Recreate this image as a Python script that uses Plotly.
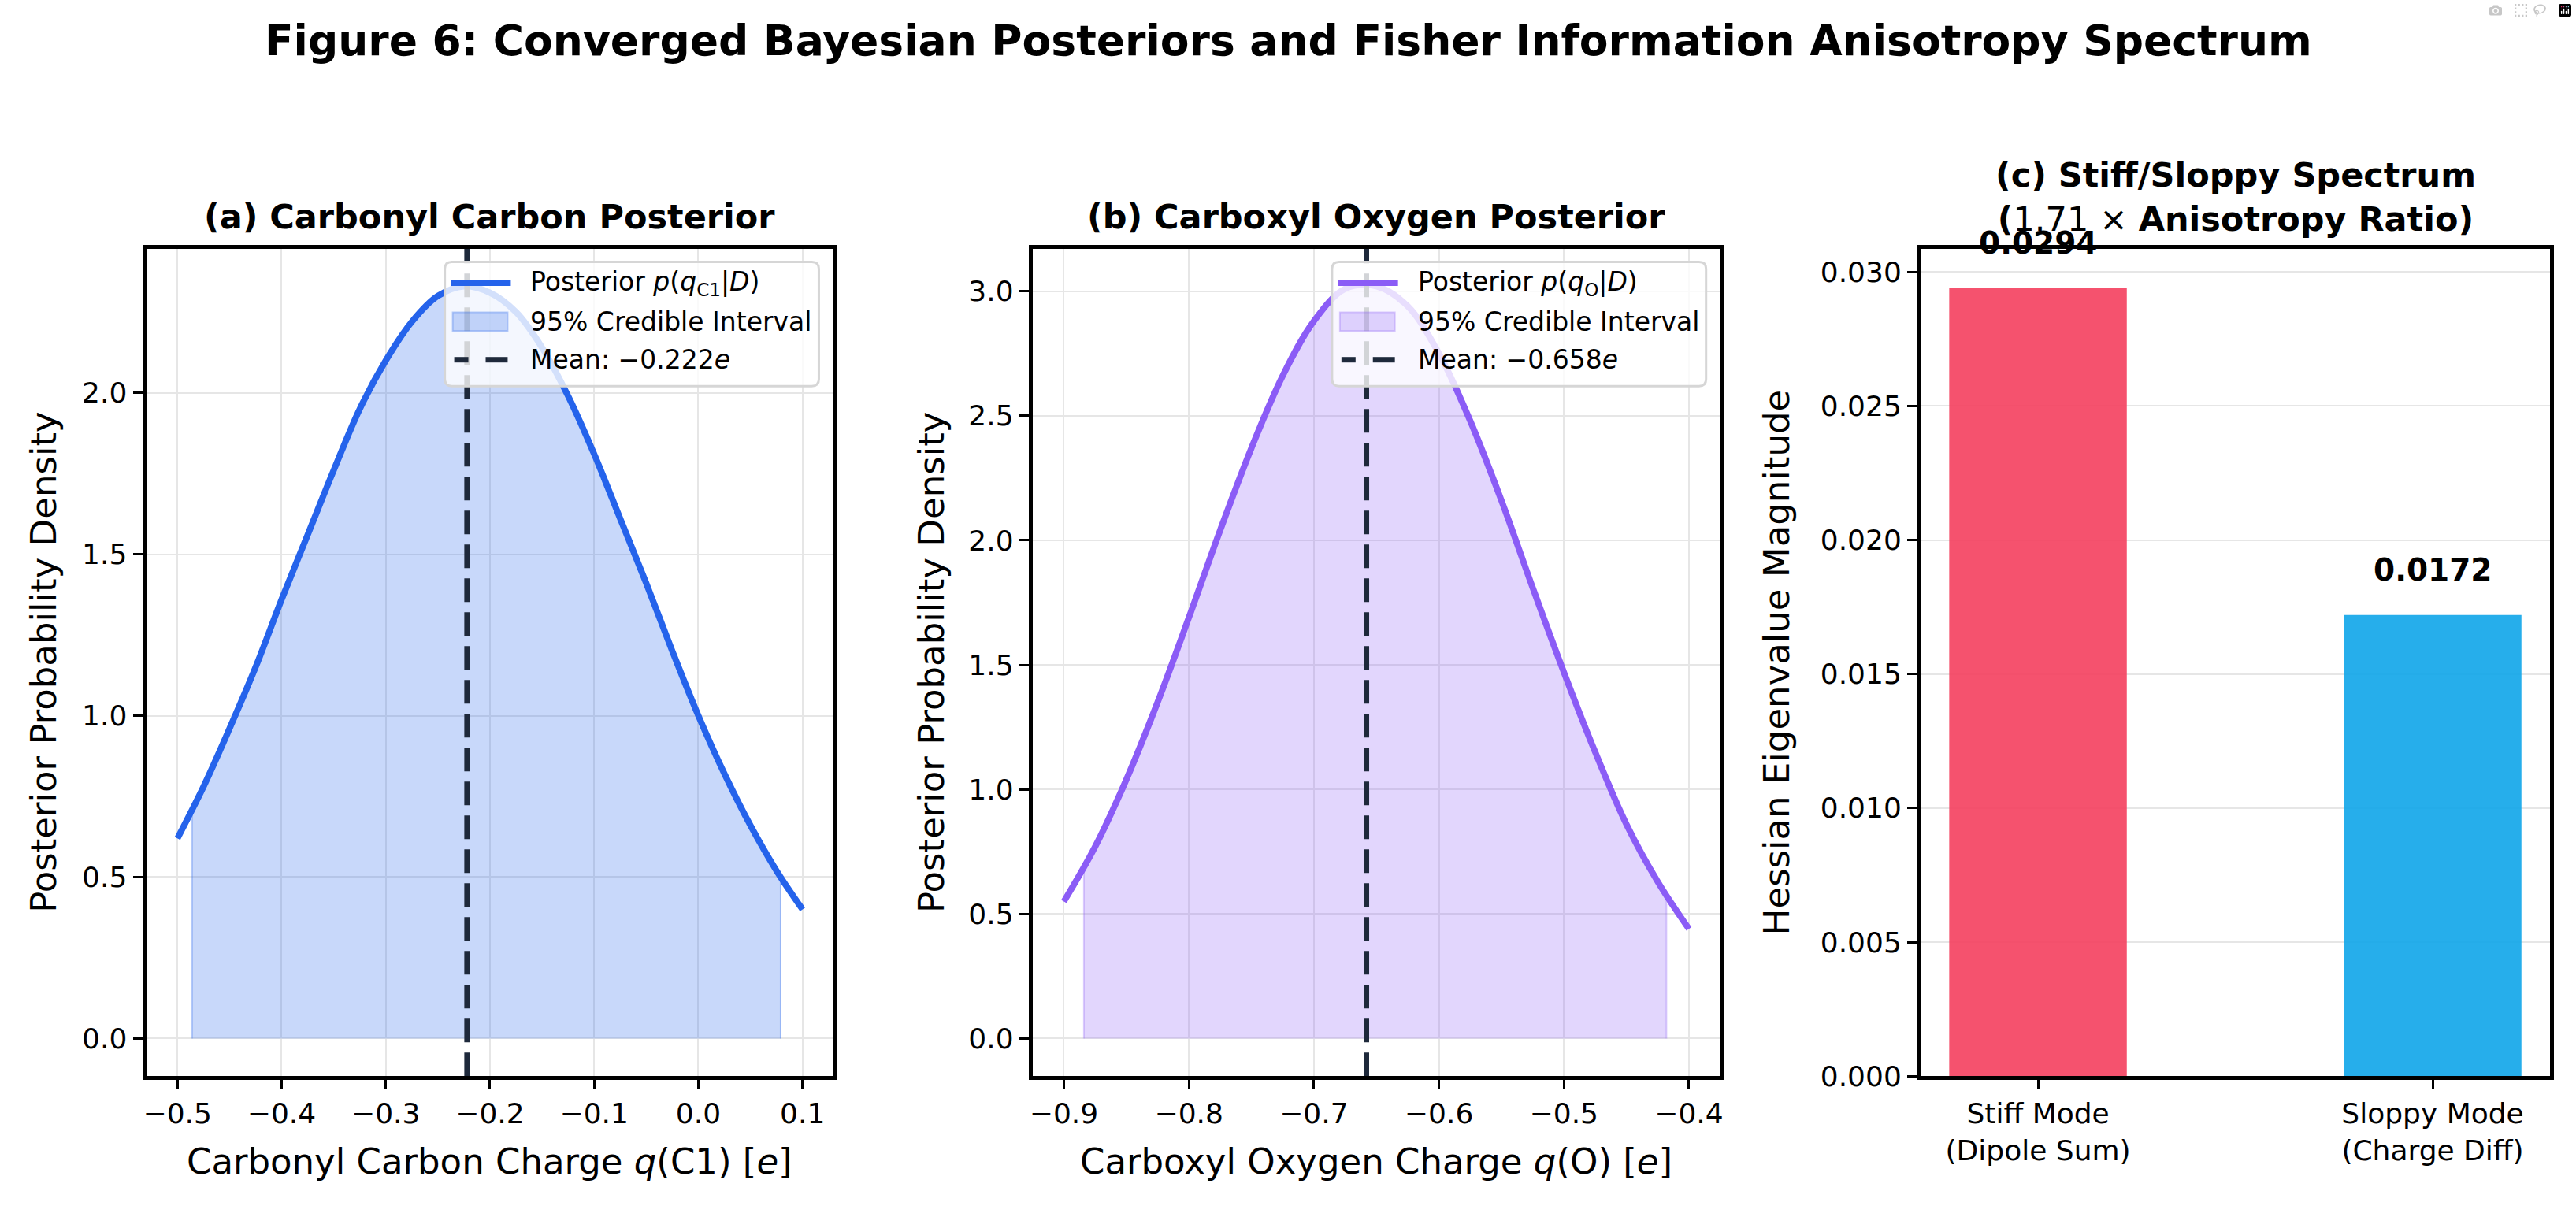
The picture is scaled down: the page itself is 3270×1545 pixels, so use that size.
import plotly.graph_objects as go

# ── Data ───────────────────────────────────────────────────────────────────
# (a) carbonyl carbon posterior
charge_c1 = [-0.500, -0.475, -0.450, -0.425, -0.400, -0.375, -0.350, -0.325, -0.300,
             -0.275, -0.250, -0.225, -0.200, -0.175, -0.150, -0.125, -0.100, -0.075,
             -0.050, -0.025, 0.000, 0.025, 0.050, 0.075, 0.100]
density_c1 = [0.62, 0.78, 0.96, 1.15, 1.36, 1.56, 1.76, 1.95, 2.10,
              2.22, 2.30, 2.33, 2.31, 2.25, 2.14, 1.99, 1.81, 1.61,
              1.41, 1.20, 1.00, 0.82, 0.66, 0.52, 0.40]
ci_c1 = [-0.486, 0.079]
ci_c1_density = [0.71, 0.50]
mean_c1 = -0.222

# (b) carboxyl oxygen posterior
charge_o = [-0.900, -0.875, -0.850, -0.825, -0.800, -0.775, -0.750, -0.725, -0.700,
            -0.675, -0.650, -0.625, -0.600, -0.575, -0.550, -0.525, -0.500, -0.475,
            -0.450, -0.425, -0.400]
density_o = [0.55, 0.77, 1.04, 1.35, 1.69, 2.04, 2.37, 2.66, 2.88,
             3.01, 3.02, 2.94, 2.75, 2.48, 2.16, 1.81, 1.47, 1.15,
             0.86, 0.63, 0.44]
ci_o = [-0.884, -0.418]
ci_o_density = [0.69, 0.57]
mean_o = -0.658

# (c) Hessian spectrum
modes = ["Stiff Mode<br>(Dipole Sum)", "Sloppy Mode<br>(Charge Diff)"]
eigenvalues = [0.0294, 0.0172]
anisotropy = 1.71

xticks_c1 = [-0.5, -0.4, -0.3, -0.2, -0.1, 0.0, 0.1]
yticks_c1 = [0.0, 0.5, 1.0, 1.5, 2.0]
xticks_o = [-0.9, -0.8, -0.7, -0.6, -0.5, -0.4]
yticks_o = [0.0, 0.5, 1.0, 1.5, 2.0, 2.5, 3.0]
yticks_c = [0.000, 0.005, 0.010, 0.015, 0.020, 0.025, 0.030]

# ── Style ──────────────────────────────────────────────────────────────────
W, H = 3270, 1545
FONT = "DejaVu Sans"
BLUE, BLUE_FILL, BLUE_EDGE = "#2563eb", "rgba(37,99,235,0.25)", "rgba(37,99,235,0.3)"
PURPLE, PURPLE_FILL, PURPLE_EDGE = "#8b5cf6", "rgba(139,92,246,0.25)", "rgba(139,92,246,0.3)"
NAVY = "#1e293b"
GRID = "#e6e6e6"

# axes boxes in pixels (left, right), shared top/bottom
BOX = {"a": (182, 1057), "b": (1310, 2185), "c": (2440, 3241)}
TOP, BOTTOM = 320, 1385


def px_x(v):
    return v / W


def px_y(v):
    return 1 - v / H


def minus(v, fmt):
    return format(v, fmt).replace("-", "\u2212")


def fill_polygon(xs, ys, lo, hi, lo_y, hi_y):
    inner = [(x, y) for x, y in zip(xs, ys) if lo < x < hi]
    px = [lo, lo] + [p[0] for p in inner] + [hi, hi]
    py = [0, lo_y] + [p[1] for p in inner] + [hi_y, 0]
    return px, py


fig = go.Figure()

# ── Panel (a) ──────────────────────────────────────────────────────────────
fx, fy = fill_polygon(charge_c1, density_c1, ci_c1[0], ci_c1[1], *ci_c1_density)
fig.add_trace(go.Scatter(x=fx, y=fy, fill="toself", fillcolor=BLUE_FILL, mode="lines",
                         line=dict(color=BLUE_EDGE, width=2), xaxis="x", yaxis="y"))
fig.add_trace(go.Scatter(x=charge_c1, y=density_c1, mode="lines",
                         line=dict(color=BLUE, width=8, shape="spline"), xaxis="x", yaxis="y"))
ymax_a = max(density_c1) * 1.05
ymin_a = -max(density_c1) * 0.05
fig.add_trace(go.Scatter(x=[mean_c1, mean_c1], y=[ymin_a, ymax_a], mode="lines",
                         line=dict(color=NAVY, width=7, dash="30px,13px"), xaxis="x", yaxis="y"))

# ── Panel (b) ──────────────────────────────────────────────────────────────
fx, fy = fill_polygon(charge_o, density_o, ci_o[0], ci_o[1], *ci_o_density)
fig.add_trace(go.Scatter(x=fx, y=fy, fill="toself", fillcolor=PURPLE_FILL, mode="lines",
                         line=dict(color=PURPLE_EDGE, width=2), xaxis="x2", yaxis="y2"))
fig.add_trace(go.Scatter(x=charge_o, y=density_o, mode="lines",
                         line=dict(color=PURPLE, width=8, shape="spline"), xaxis="x2", yaxis="y2"))
ymax_b = max(density_o) * 1.05
ymin_b = -max(density_o) * 0.05
fig.add_trace(go.Scatter(x=[mean_o, mean_o], y=[ymin_b, ymax_b], mode="lines",
                         line=dict(color=NAVY, width=7, dash="30px,13px"), xaxis="x2", yaxis="y2"))

# ── Panel (c) ──────────────────────────────────────────────────────────────
fig.add_trace(go.Bar(
    x=modes, y=eigenvalues, width=0.45,
    marker=dict(color=["rgba(244,63,94,0.9)", "rgba(14,165,233,0.9)"], line=dict(width=0)),
    xaxis="x3", yaxis="y3",
))
fig.update_traces(showlegend=False, hoverinfo="skip")

# ── Axes ───────────────────────────────────────────────────────────────────
tickfont = dict(family=FONT, size=36, color="black")


def axis(domain, rng, **kw):
    d = dict(
        domain=domain, range=rng, showline=True, mirror=True, linecolor="black",
        linewidth=5, ticks="outside", ticklen=12, tickwidth=3, tickcolor="black",
        showgrid=True, gridcolor=GRID, gridwidth=2, zeroline=False,
        tickfont=tickfont, fixedrange=True,
    )
    d.update(kw)
    return d


ydom = [px_y(BOTTOM), px_y(TOP)]
pad_c1 = (charge_c1[-1] - charge_c1[0]) * 0.05
pad_o = (charge_o[-1] - charge_o[0]) * 0.05
fig.update_layout(
    xaxis=axis([px_x(BOX["a"][0]), px_x(BOX["a"][1])], [charge_c1[0] - pad_c1, charge_c1[-1] + pad_c1],
               tickvals=xticks_c1, ticktext=[minus(v, ".1f") for v in xticks_c1], anchor="y"),
    yaxis=axis(ydom, [ymin_a, ymax_a], tickvals=yticks_c1,
               ticktext=[minus(v, ".1f") for v in yticks_c1], anchor="x"),
    xaxis2=axis([px_x(BOX["b"][0]), px_x(BOX["b"][1])], [charge_o[0] - pad_o, charge_o[-1] + pad_o],
                tickvals=xticks_o, ticktext=[minus(v, ".1f") for v in xticks_o], anchor="y2"),
    yaxis2=axis(ydom, [ymin_b, ymax_b], tickvals=yticks_o,
                ticktext=[minus(v, ".1f") for v in yticks_o], anchor="x2"),
    xaxis3=axis([px_x(BOX["c"][0]), px_x(BOX["c"][1])], [-0.2975, 1.2975],
                showgrid=False, anchor="y3", type="category"),
    yaxis3=axis(ydom, [0, max(eigenvalues) * 1.05], tickvals=yticks_c,
                ticktext=[format(v, ".3f") for v in yticks_c], anchor="x3"),
)

# ── Legends (drawn by hand so they look like the matplotlib ones) ───────────
shapes = []
ann = []
ROWS = [364, 414, 463]


def rounded_box(x0, y0, x1, y1, r):
    # pixel box -> paper path with rounded corners
    X = lambda v: "%.5f" % px_x(v)
    Y = lambda v: "%.5f" % px_y(v)
    return ("M %s,%s L %s,%s Q %s,%s %s,%s L %s,%s Q %s,%s %s,%s "
            "L %s,%s Q %s,%s %s,%s L %s,%s Q %s,%s %s,%s Z") % (
        X(x0 + r), Y(y0), X(x1 - r), Y(y0), X(x1), Y(y0), X(x1), Y(y0 + r),
        X(x1), Y(y1 - r), X(x1), Y(y1), X(x1 - r), Y(y1),
        X(x0 + r), Y(y1), X(x0), Y(y1), X(x0), Y(y1 - r),
        X(x0), Y(y0 + r), X(x0), Y(y0), X(x0 + r), Y(y0))


def draw_legend(left, color, fill, edge, labels):
    right = left + 476
    paper = dict(xref="paper", yref="paper", layer="above")
    shapes.append(dict(type="path", path=rounded_box(left, 337, right, 497, 9),
                       fillcolor="rgba(255,255,255,0.8)", line=dict(color="#d6d6d6", width=3), **paper))
    shapes.append(dict(type="line", x0=px_x(left + 8), x1=px_x(left + 84), y0=px_y(ROWS[0]), y1=px_y(ROWS[0]),
                       line=dict(color=color, width=8), **paper))
    shapes.append(dict(type="rect", x0=px_x(left + 10), x1=px_x(left + 80),
                       y0=px_y(ROWS[1] + 12), y1=px_y(ROWS[1] - 12),
                       fillcolor=fill, line=dict(color=edge, width=2), **paper))
    for a, b in [(12, 30), (52, 80)]:
        shapes.append(dict(type="line", x0=px_x(left + a), x1=px_x(left + b), y0=px_y(ROWS[2]), y1=px_y(ROWS[2]),
                           line=dict(color=NAVY, width=7), **paper))
    for row, text in zip(ROWS, labels):
        ann.append(dict(text=text, x=px_x(left + 107), y=px_y(row), xanchor="left", yanchor="middle",
                        xref="paper", yref="paper", showarrow=False,
                        font=dict(family=FONT, size=33, color="black")))


draw_legend(562, BLUE, BLUE_FILL, BLUE_EDGE, [
    "Posterior <i>p</i>(<i>q</i><sub>C1</sub>|<i>D</i>)",
    "95% Credible Interval",
    "Mean: " + minus(mean_c1, ".3f") + "<i>e</i>",
])
draw_legend(1691, PURPLE, PURPLE_FILL, PURPLE_EDGE, [
    "Posterior <i>p</i>(<i>q</i><sub>O</sub>|<i>D</i>)",
    "95% Credible Interval",
    "Mean: " + minus(mean_o, ".3f") + "<i>e</i>",
])

# ── Titles and labels ──────────────────────────────────────────────────────
labels = []
labels.append(dict(text="<b>Figure 6: Converged Bayesian Posteriors and Fisher Information Anisotropy Spectrum</b>",
                   x=0.5, y=px_y(52), font=dict(size=53.5)))


def center(key):
    return px_x((BOX[key][0] + BOX[key][1]) / 2)


labels.append(dict(text="<b>(a) Carbonyl Carbon Posterior</b>", x=center("a"), y=px_y(279), font=dict(size=43)))
labels.append(dict(text="<b>(b) Carboxyl Oxygen Posterior</b>", x=center("b"), y=px_y(279), font=dict(size=43)))
labels.append(dict(text="<b>(c) Stiff/Sloppy Spectrum</b><br><b>(</b>%.2f \u00d7 <b>Anisotropy Ratio)</b>" % anisotropy,
                   x=center("c"), y=px_y(253), font=dict(size=43)))

labels.append(dict(text="Carbonyl Carbon Charge <i>q</i>(C1) [<i>e</i>]", x=center("a"), y=px_y(1495), font=dict(size=45)))
labels.append(dict(text="Carboxyl Oxygen Charge <i>q</i>(O) [<i>e</i>]", x=center("b"), y=px_y(1495), font=dict(size=45)))

ymid = px_y((TOP + BOTTOM) / 2)
labels.append(dict(text="Posterior Probability Density", x=px_x(52), y=ymid, textangle=-90, font=dict(size=45)))
labels.append(dict(text="Posterior Probability Density", x=px_x(1182), y=ymid, textangle=-90, font=dict(size=45)))
labels.append(dict(text="Hessian Eigenvalue Magnitude", x=px_x(2257), y=ymid, textangle=-90, font=dict(size=45)))

for a in labels:
    a.update(xref="paper", yref="paper", showarrow=False, xanchor="center", yanchor="middle")
    a["font"].update(family=FONT, color="black")

for m, v in zip(modes, eigenvalues):
    labels.append(dict(text="<b>%.4f</b>" % v, x=m, y=v, xref="x3", yref="y3", showarrow=False,
                       xanchor="center", yanchor="bottom", yshift=33,
                       font=dict(family=FONT, size=39, color="black")))

fig.update_layout(
    annotations=labels + ann,
    shapes=shapes,
    width=W, height=H, margin=dict(l=0, r=0, t=0, b=0),
    paper_bgcolor="white", plot_bgcolor="white",
    font=dict(family=FONT, color="black"),
    showlegend=False,
)

fig.write_html("out.html", post_script="document.body.style.margin='0';")
